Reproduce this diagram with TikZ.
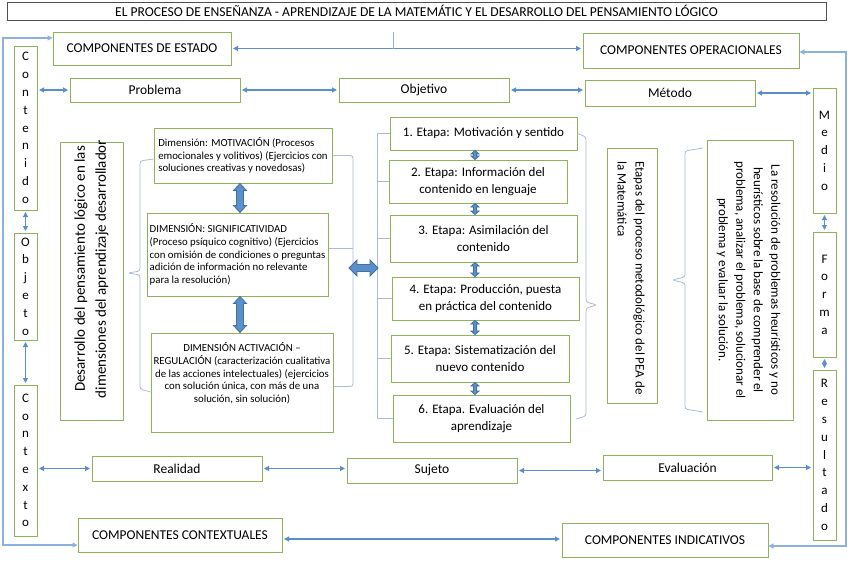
\documentclass[tikz,border=0pt]{standalone}
\usepackage{fontspec}
\setmainfont{Carlito}
\usetikzlibrary{arrows.meta,calc}
\definecolor{bgreen}{HTML}{8EB35A}
\definecolor{cblue}{HTML}{5B8FCB}
\definecolor{oblue}{HTML}{8CB1DE}
\definecolor{brkc}{HTML}{A9BBD6}
\definecolor{ffill}{HTML}{5B8FCB}
\definecolor{fline}{HTML}{41719C}
\definecolor{tgray}{HTML}{505050}
\newcommand\vdarr[5]{\draw[fatarr] (#1) -- ($(#1)+(#3,#5)$) -- ($(#1)+(#4,#5)$) -- ($(#2)+(#4,-#5)$) -- ($(#2)+(#3,-#5)$) -- (#2) -- ($(#2)+(-#3,-#5)$) -- ($(#2)+(-#4,-#5)$) -- ($(#1)+(-#4,#5)$) -- ($(#1)+(-#3,#5)$) -- cycle;}
\newcommand\hdarr[5]{\draw[fatarr] (#1) -- ($(#1)+(#5,-#3)$) -- ($(#1)+(#5,-#4)$) -- ($(#2)+(-#5,-#4)$) -- ($(#2)+(-#5,-#3)$) -- (#2) -- ($(#2)+(-#5,#3)$) -- ($(#2)+(-#5,#4)$) -- ($(#1)+(#5,#4)$) -- ($(#1)+(#5,#3)$) -- cycle;}
\begin{document}
\begin{tikzpicture}[x=1pt,y=-1pt,
  box/.style={draw=bgreen, line width=1pt, fill=white, inner sep=2pt, align=center, font=\fontsize{13.5}{16}\selectfont},
  etapa/.style={box, font=\fontsize{13}{17}\selectfont},
  dimbox/.style={box, font=\fontsize{10.8}{12.8}\selectfont},
  letters/.style={box, font=\fontsize{13}{17.8}\selectfont},
  titlebox/.style={draw=tgray, line width=0.8pt, fill=white, inner sep=1pt, font=\fontsize{13.6}{15}\selectfont},
  conn/.style={draw=cblue, line width=1.1pt, shorten <=1.5pt, shorten >=1.5pt, {Triangle[length=5pt 0,width=5pt 0]}-{Triangle[length=5pt 0,width=5pt 0]}},
  outer/.style={draw=oblue, line width=1.1pt, {Triangle[length=5pt 0,width=5pt 0]}-{Triangle[length=5pt 0,width=5pt 0]}},
  brk/.style={draw=brkc, line width=0.8pt, rounded corners=2.5pt},
  fatarr/.style={draw=fline, line width=0.8pt, fill=ffill, line join=miter}
]
\useasboundingbox (0,0) rectangle (852,560);
\fill[white] (0,0) rectangle (852,560);

% title
\node[titlebox, minimum width=819pt, minimum height=18pt] (title) at (416.5,11) {EL PROCESO DE ENSEÑANZA - APRENDIZAJE DE LA MATEMÁTIC Y EL DESARROLLO DEL PENSAMIENTO LÓGICO};

% component boxes
\node[box, minimum width=178pt, minimum height=33pt] (estado) at (142,48.5) {COMPONENTES DE ESTADO};
\node[box, minimum width=216pt, minimum height=35pt] (operac) at (691,50.5) {COMPONENTES OPERACIONALES};
\node[box, minimum width=204pt, minimum height=34pt] (contextuales) at (180,535) {COMPONENTES CONTEXTUALES};
\node[box, minimum width=206pt, minimum height=34pt] (indicativos) at (665,540) {COMPONENTES INDICATIVOS};

% side columns
\node[letters, minimum width=23pt, minimum height=164pt] (contenido) at (25.5,128) {C\\o\\n\\t\\e\\n\\i\\d\\o};
\node[letters, minimum width=23pt, minimum height=107pt] (objeto) at (25.5,286.5) {O\\b\\j\\e\\t\\o};
\node[letters, minimum width=23pt, minimum height=151pt] (contexto) at (25.5,460.5) {C\\o\\n\\t\\e\\x\\t\\o};
\node[letters, minimum width=23pt, minimum height=125pt] (medio) at (824.5,150.5) {M\\e\\d\\i\\o};
\node[letters, minimum width=23pt, minimum height=125pt] (forma) at (824.5,294.5) {F\\o\\r\\m\\a};
\node[letters, minimum width=23pt, minimum height=170pt] (resultado) at (824.5,455) {R\\e\\s\\u\\l\\t\\a\\d\\o};

% rows
\node[box, minimum width=170pt, minimum height=24pt] (problema) at (155,90) {Problema};
\node[box, minimum width=170pt, minimum height=24pt] (objetivo) at (424,90) {Objetivo};
\node[box, minimum width=170pt, minimum height=26pt] (metodo) at (670,93) {Método};
\node[box, minimum width=170pt, minimum height=25pt] (realidad) at (177,468.5) {Realidad};
\node[box, minimum width=170pt, minimum height=25pt] (sujeto) at (432,470.5) {Sujeto};
\node[box, minimum width=169pt, minimum height=25pt] (evaluacion) at (687.5,467.5) {Evaluación};

% desarrollo
\node[box, minimum width=63pt, minimum height=278pt] (desarrollo) at (91.5,281) {};
\node[rotate=90, align=center, font=\fontsize{15}{21}\selectfont, inner sep=0pt] (destext) at (91.5,269) {Desarrollo del pensamiento lógico en las\\dimensiones del aprendizaje desarrollador};

% dimensions
\node[dimbox, minimum width=178pt, minimum height=55pt, align=left] (mot) at (243,155.5) {Dimensión: MOTIVACIÓN (Procesos\\emocionales y volitivos) (Ejercicios con\\soluciones creativas y novedosas)};
\node[dimbox, minimum width=181pt, minimum height=83pt, align=left] (sig) at (237.5,254.5) {DIMENSIÓN: SIGNIFICATIVIDAD\\(Proceso psíquico cognitivo) (Ejercicios\\con omisión de condiciones o preguntas\\adición de información no relevante\\para la resolución)};
\node[dimbox, minimum width=182pt, minimum height=99pt] (act) at (242,382.5) {DIMENSIÓN ACTIVACIÓN –\\REGULACIÓN (caracterización cualitativa\\de las acciones intelectuales) (ejercicios\\con solución única, con más de una\\solución, sin solución)\\[7pt]};

% etapas
\node[etapa, minimum width=187pt, minimum height=33pt] (e1) at (483.5,133.5) {1. Etapa: Motivación y sentido};
\node[etapa, minimum width=178pt, minimum height=43pt] (e2) at (478,181.5) {2. Etapa: Información del\\contenido en lenguaje};
\node[etapa, minimum width=187pt, minimum height=47pt] (e3) at (483.5,238.5) {3. Etapa: Asimilación del\\contenido};
\node[etapa, minimum width=187pt, minimum height=43pt] (e4) at (485.5,298.5) {4. Etapa: Producción, puesta\\en práctica del contenido};
\node[etapa, minimum width=178pt, minimum height=47pt] (e5) at (480,358.5) {5. Etapa: Sistematización del\\nuevo contenido};
\node[etapa, minimum width=177pt, minimum height=47pt] (e6) at (481.5,418.5) {6. Etapa. Evaluación del\\aprendizaje};

% right vertical boxes
\node[box, minimum width=50pt, minimum height=255pt] (etapas) at (632,275.5) {};
\node[rotate=-90, align=left, font=\fontsize{13}{18}\selectfont, inner sep=0pt] (etapastext) at (631,278) {Etapas del proceso metodológico del PEA de\\la Matemática};
\node[box, minimum width=86pt, minimum height=280pt] (resol) at (750,280) {};
\node[rotate=-90, align=center, font=\fontsize{13}{17.5}\selectfont, inner sep=0pt] (resoltext) at (748.5,280) {La resolución de problemas heurísticos y no\\heurísticos sobre la base de comprender el\\problema, analizar el problema, solucionar el\\problema y evaluar la solución.};

% connectors: rows
\draw[conn] (estado.east) -- (estado.east -| operac.west);
\draw[conn] ([yshift=-4pt]contextuales.east) -- ([yshift=-4pt]contextuales.east -| indicativos.west);
\draw[conn] (contenido.east |- problema.west) -- (problema.west);
\draw[conn] (problema.east) -- (problema.east -| objetivo.west);
\draw[conn] (objetivo.east) -- (objetivo.east -| metodo.west);
\draw[conn] (metodo.east) -- (metodo.east -| medio.west);
\draw[conn] (contexto.east |- realidad.west) -- (realidad.west);
\draw[conn] (realidad.east) -- (realidad.east -| sujeto.west);
\draw[conn] (sujeto.east) -- (sujeto.east -| evaluacion.west);
\draw[conn] (evaluacion.east) -- (evaluacion.east -| resultado.west);
% columns
\draw[conn] (contenido) -- (objeto);
\draw[conn] (objeto) -- (contexto);
\draw[conn] (medio) -- (forma);
\draw[conn] (forma) -- (resultado);

% outer lines
\coordinate (lt) at (3,38);
\coordinate (lb) at (3,545);
\draw[outer] (estado.west |- lt) -- (lt) -- (lb) -- (contextuales.west |- lb);
\coordinate (rt) at (846,52);
\coordinate (rb) at (846,546);
\draw[outer] (operac.east |- rt) -- (rt) -- (rb) -- (indicativos.east |- rb);
\coordinate (tick) at (393,32);
\draw[draw=oblue, line width=0.8pt] (tick) -- (tick |- estado.east);

% brackets
\draw[brk] (mot.west |- 0,159) -- (140,161) -- (140,271) -- (128,273) -- (140,275) -- (140,389) -- (act.west |- 0,392);
\coordinate (bx) at (353,0);
\draw[brk] (mot.east) -- (mot.east -| bx) -- ([yshift=-4pt]act.east -| bx) -- ([yshift=-4pt]act.east);
\draw[brk] ([yshift=6pt]sig.east) -- ([yshift=6pt]sig.east -| bx);
\coordinate (ex) at (377,0);
\draw[brk, rounded corners=0pt] (e1.west -| ex) -- (e6.west -| ex);
\foreach \e in {e1,e2,e3,e4,e5,e6} \draw[brk] (\e.west -| ex) -- (\e.west);
\draw[brk] (e1.east) -- (586,137) -- (586,302) -- (597,305) -- (586,308) -- (586,416) -- (576,419);
\draw[brk] (703,148) -- (685,151) -- (685,277) -- (672,280) -- (685,283) -- (685,409) -- (703,412);

% thick arrows
\coordinate (fx) at (240,0);
\coordinate (m1) at (fx |- mot.south);
\coordinate (m2) at (fx |- sig.north);
\coordinate (m3) at (fx |- sig.south);
\coordinate (m4) at (fx |- act.north);
\vdarr{m1}{m2}{6.5}{3.5}{7}
\vdarr{m3}{m4}{6.5}{3.5}{7}
\coordinate (h1) at (349,268);
\coordinate (h2) at (378,268);
\hdarr{h1}{h2}{8}{3.5}{8}
\coordinate (sx) at (475,0);
\foreach \a/\b [count=\i] in {e1/e2,e2/e3,e3/e4,e4/e5,e5/e6}{
  \coordinate (s\i a) at (sx |- \a.south);
  \coordinate (s\i b) at (sx |- \b.north);
  \vdarr{s\i a}{s\i b}{4}{1.6}{3.5}
}
\end{tikzpicture}
\end{document}
